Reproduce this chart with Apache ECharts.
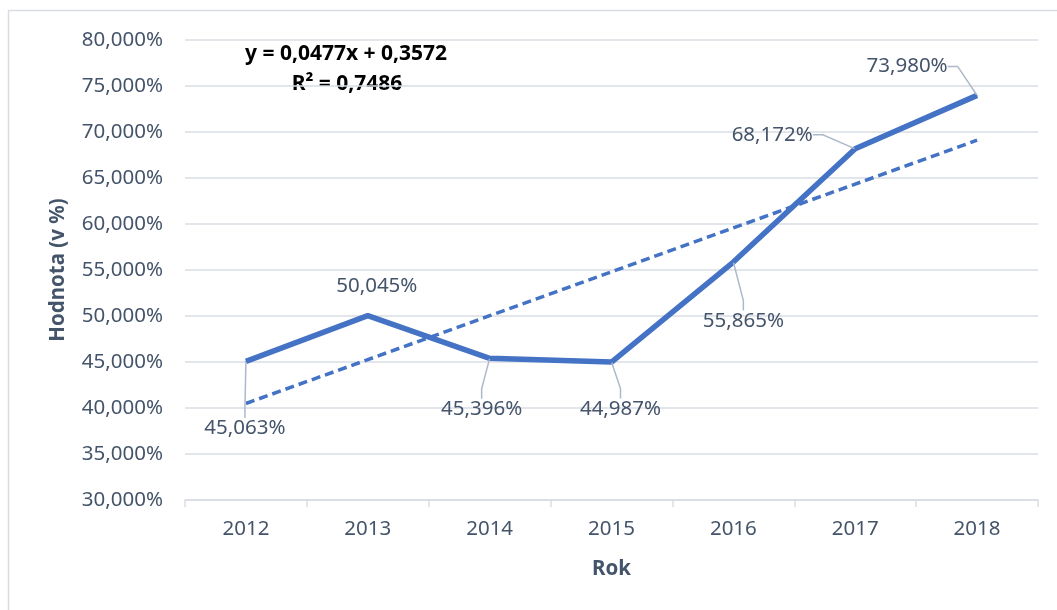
<!DOCTYPE html>
<html>
<head>
<meta charset="utf-8">
<script src="https://cdn.jsdelivr.net/npm/echarts@6/dist/echarts.min.js"></script>
<style>
  html, body { margin: 0; padding: 0; background: #fff; }
  #chart { width: 1057px; height: 610px; }
</style>
</head>
<body>
<div id="chart"></div>
<script>
// data
const years = ['2012', '2013', '2014', '2015', '2016', '2017', '2018']
const hodnota = [45.063, 50.045, 45.396, 44.987, 55.865, 68.172, 73.980]
// linear trendline y = 0,0477x + 0,3572 (in %)
const trend = [40.49, 45.26, 50.03, 54.80, 59.57, 64.34, 69.11]
const equation = ['y = 0,0477x + 0,3572', 'R² = 0,7486']

// where Excel put each data label, relative to the default "top" spot
const labelShift = [[-1, 83], [9, -13], [-8, 67], [9, 63], [10, 75], [-83, 2], [-70, -13]]
const noLeader = [1]

const font = '"Noto Sans", "Open Sans", sans-serif'
const fs = 20.5
const textColor = '#44546a'
const blue = '#4472c4'

const fmt = v => v.toFixed(3).replace('.', ',') + '%'

const chart = echarts.init(document.getElementById('chart'))
chart.setOption({
  animation: false,
  textStyle: { fontFamily: font },
  grid: { left: 185, right: 19, top: 40, bottom: 110 },
  xAxis: {
    type: 'category',
    data: years,
    boundaryGap: true,
    name: 'Rok',
    nameLocation: 'middle',
    nameGap: 59,
    nameTextStyle: { color: textColor, fontSize: fs, fontWeight: 'bold', fontFamily: font },
    axisLine: { lineStyle: { color: '#d9dde3', width: 1.5 } },
    axisTick: { show: true, length: 7, lineStyle: { color: '#d9dde3', width: 1.5 } },
    axisLabel: { color: textColor, fontSize: fs, margin: 19, fontFamily: font },
    splitLine: { show: false }
  },
  yAxis: {
    type: 'value',
    min: 30,
    max: 80,
    interval: 5,
    name: 'Hodnota (v %)',
    nameLocation: 'middle',
    nameGap: 116,
    nameTextStyle: { color: textColor, fontSize: fs, fontWeight: 'bold', fontFamily: font },
    axisLine: { show: false },
    axisTick: { show: false },
    axisLabel: { color: textColor, fontSize: fs, margin: 22, formatter: fmt, fontFamily: font },
    splitLine: { lineStyle: { color: '#d9dde3', width: 1.5 } }
  },
  graphic: [
    {
      type: 'rect',
      silent: true,
      z: -10,
      shape: { x: 8.5, y: 10.5, width: 1100, height: 700 },
      style: { fill: 'none', stroke: '#d9dde3', lineWidth: 1.5 }
    },
    {
      type: 'text',
      x: 346, y: 54,
      style: { text: equation[0], fill: '#000', font: 'bold 21px ' + font, textAlign: 'center', textVerticalAlign: 'middle' }
    },
    {
      type: 'text',
      x: 347, y: 84,
      style: { text: equation[1], fill: '#000', font: 'bold 21px ' + font, textAlign: 'center', textVerticalAlign: 'middle' }
    }
  ],
  series: [
    {
      name: 'Trend',
      type: 'line',
      data: trend,
      symbol: 'none',
      silent: true,
      lineStyle: { color: blue, width: 3.5, type: [9, 5] },
      z: 2
    },
    {
      name: 'Hodnota',
      type: 'line',
      data: hodnota.map((v, i) => noLeader.includes(i) ? { value: v, labelLine: { show: false } } : v),
      symbol: 'circle',
      symbolSize: 1,
      itemStyle: { color: blue },
      lineStyle: { color: blue, width: 5.5 },
      z: 3,
      label: {
        show: true,
        position: 'top',
        distance: 5,
        color: textColor,
        fontSize: fs,
        fontFamily: font,
        formatter: p => fmt(p.value)
      },
      labelLine: {
        show: true,
        length2: 10,
        lineStyle: { color: '#adb9ca', width: 1.5 }
      },
      labelLayout: p => ({ dx: labelShift[p.dataIndex][0], dy: labelShift[p.dataIndex][1] })
    }
  ]
})
</script>
</body>
</html>
